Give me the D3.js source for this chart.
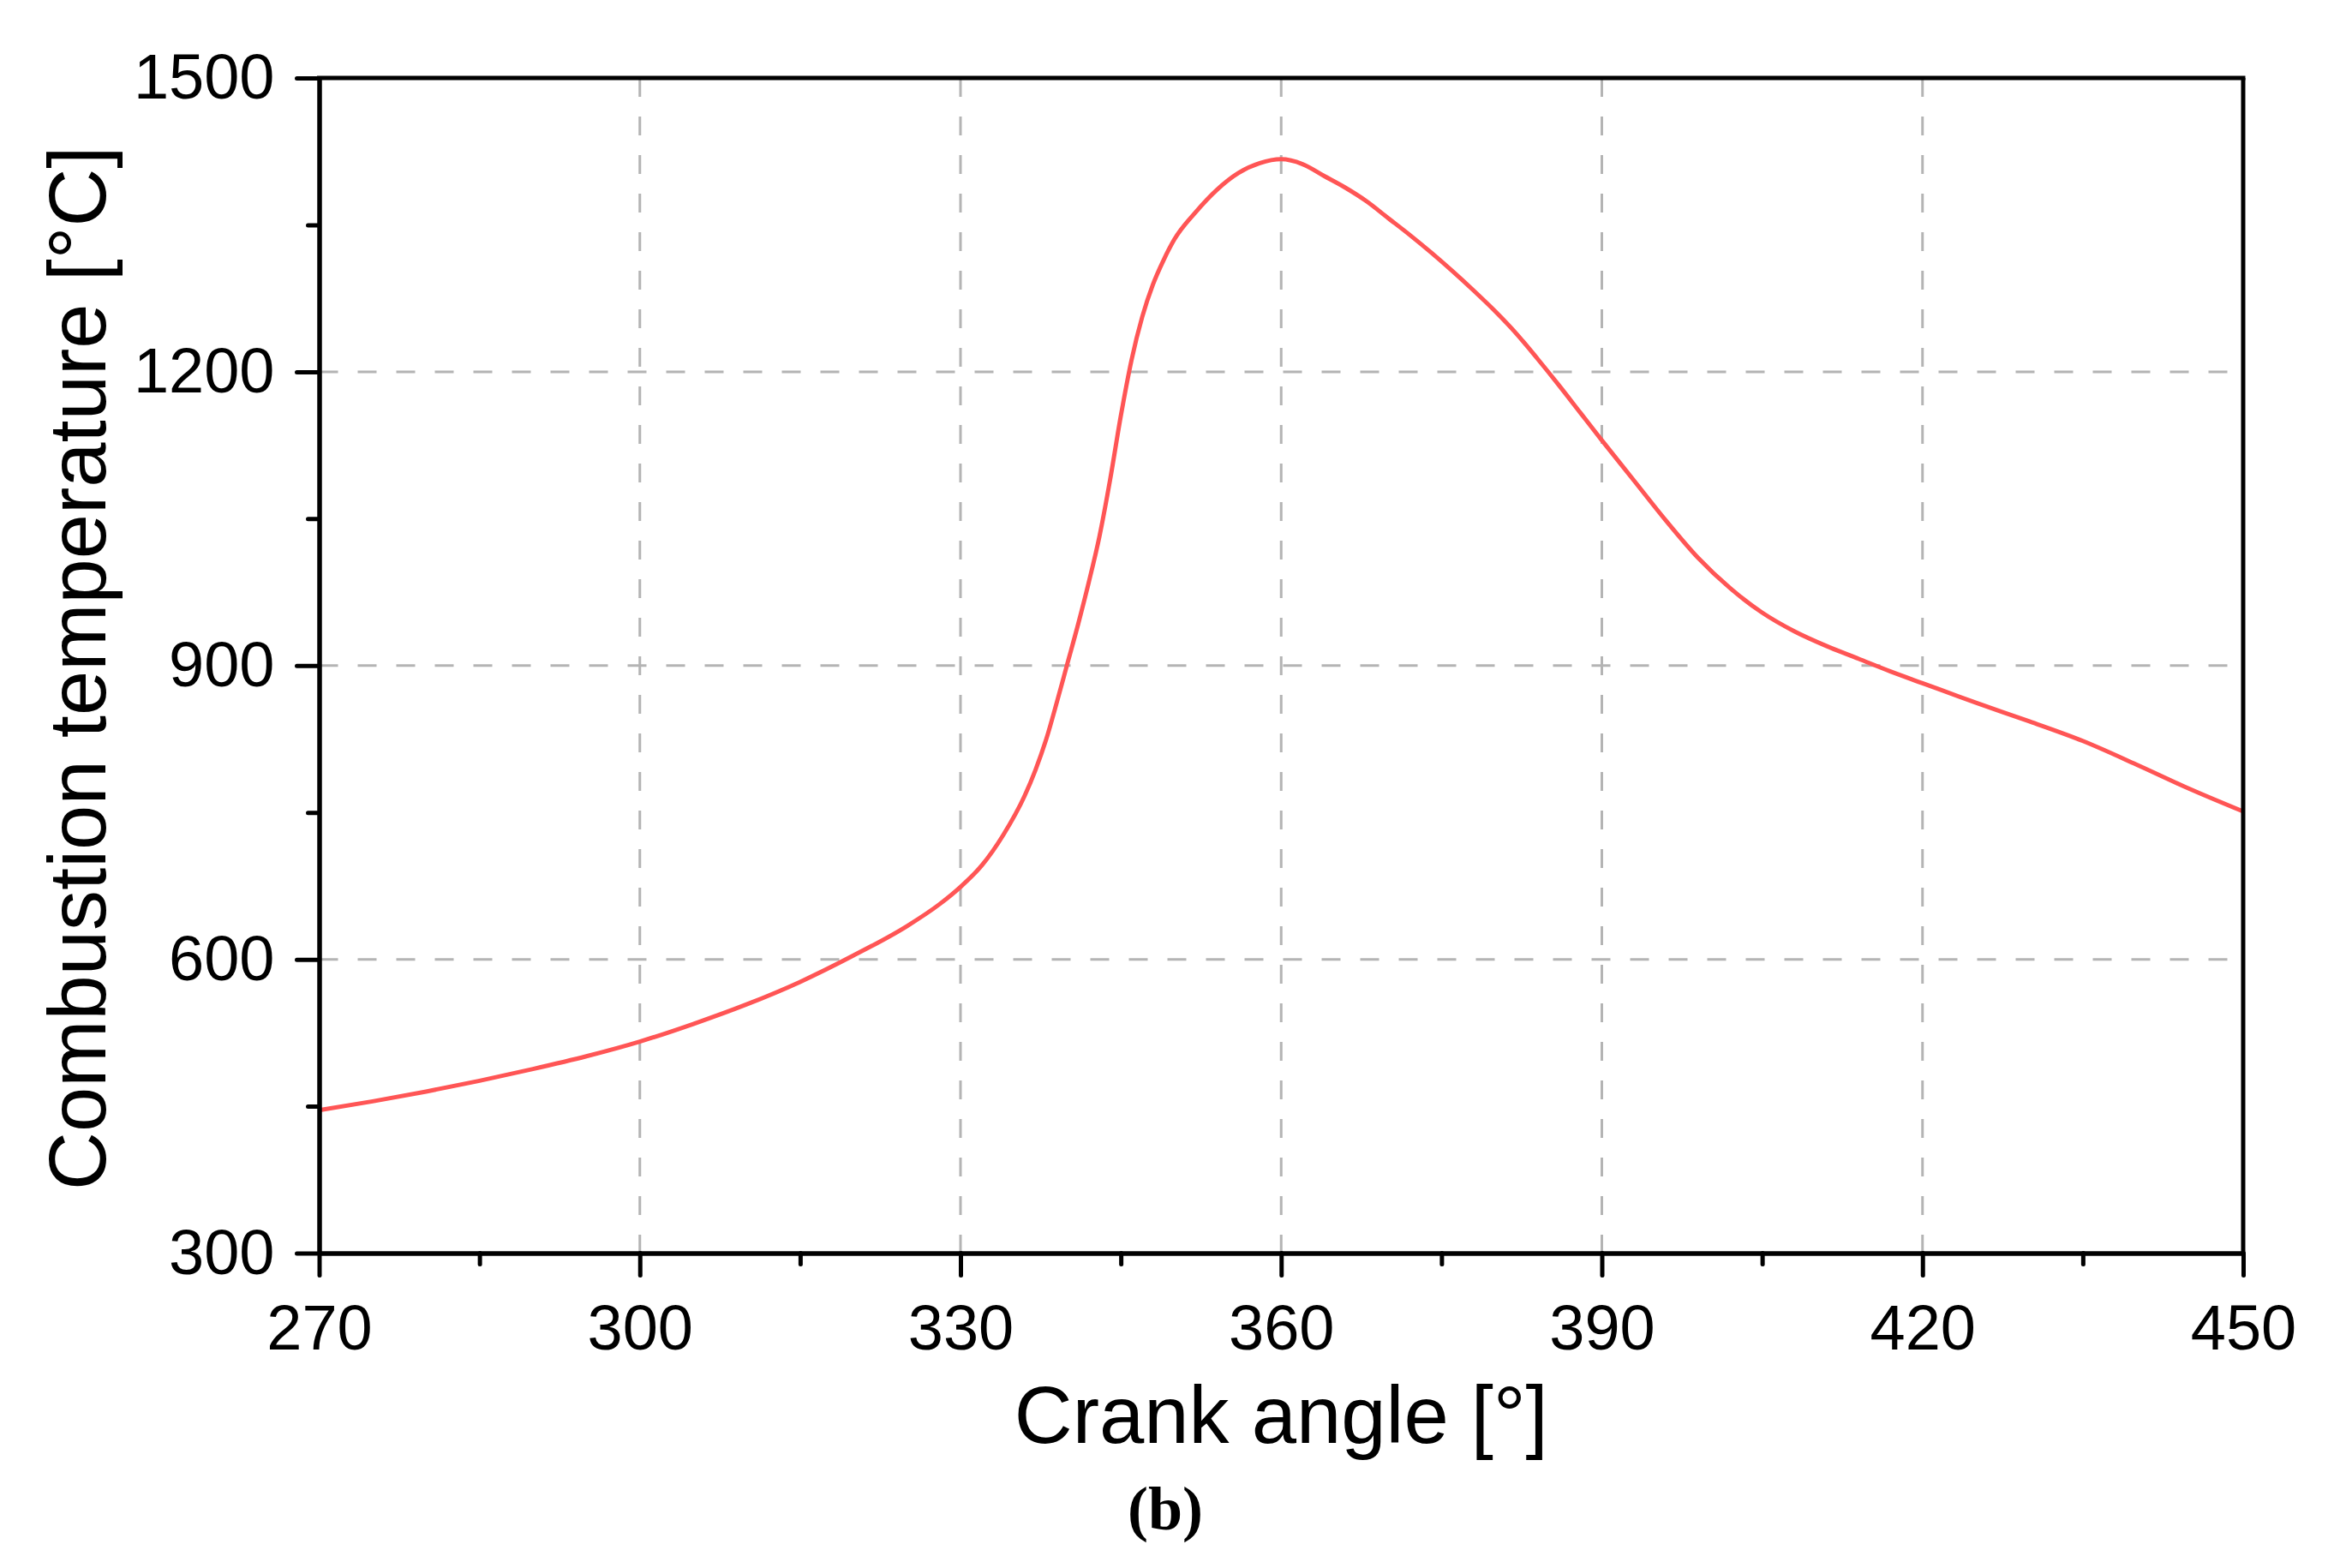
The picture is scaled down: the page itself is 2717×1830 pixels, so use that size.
<!DOCTYPE html>
<html><head><meta charset="utf-8">
<script src="https://cdn.jsdelivr.net/npm/d3@7"></script>
<style>body{margin:0;background:#fff}svg{display:block}</style>
</head><body>
<svg id="c" width="2717" height="1830"></svg>
<script>
const angles = [270,275,280,285,290,295,300,305,310,315,320,325,328,330,332,334,336,337,338,339,340,341,342,343,344,345,346,347,348,349,350,352,354,356,358,360,362,364,366,368,370,372,374,376,378,380,382,384,386,388,390,393,396,399,402,405,408,411,414,417,420,425,430,435,440,445,450];
const temps  = [446,455,465,476,488,501,516,534,554,577,604,634,656,674,696,727,767,793,824,862,902,942,985,1032,1090,1155,1212,1256,1289,1314,1335,1363,1386,1403,1413,1417,1412,1400,1388,1374,1357,1340,1322,1303,1283,1262,1239,1213,1186,1158,1130,1089,1048,1010,979,954,935,920,907,894,882,862,843,823,799,774,751];
const xTicks = [270,300,330,360,390,420,450];
const yTicks = [300,600,900,1200,1500];
const xMinor = [285,315,345,375,405,435];
const yMinor = [450,750,1050,1350];
const xTitle = "Crank angle [°]";
const yTitle = "Combustion temperature [°C]";
const panel = "(b)";

const L=372.5, R=2618, T=91, B=1462.5;
const svg=d3.select("#c");
const x=d3.scaleLinear().domain([270,450]).range([L,R]);
const y=d3.scaleLinear().domain([300,1500]).range([B,T]);
const font="Liberation Sans, Arial, sans-serif";

// grid
const g=svg.append("g");
g.selectAll("line.vx").data(xTicks.slice(1,-1)).join("line")
 .attr("x1",d=>x(d)).attr("x2",d=>x(d)).attr("y1",T).attr("y2",B)
 .attr("stroke","#b4b4b4").attr("stroke-width",3).attr("stroke-dasharray","22,23");
g.selectAll("line.hy").data(yTicks.slice(1,-1)).join("line")
 .attr("y1",d=>y(d)).attr("y2",d=>y(d)).attr("x1",L).attr("x2",R)
 .attr("stroke","#b4b4b4").attr("stroke-width",3).attr("stroke-dasharray","22,23");

// curve
const data=angles.map((a,i)=>[a,temps[i]]);
svg.append("path").datum(data)
 .attr("d",d3.line().x(d=>x(d[0])).y(d=>y(d[1])).curve(d3.curveMonotoneX))
 .attr("fill","none").attr("stroke","#ff5555").attr("stroke-width",5).attr("stroke-linejoin","round");

// axes
const fmt=d3.format("d");
const xa=d3.axisBottom(x).tickValues(xTicks).tickSize(26).tickSizeOuter(0).tickPadding(34).tickFormat(fmt);
svg.append("g").attr("transform",`translate(0,${B})`).call(xa);
const xm=d3.axisBottom(x).tickValues(xMinor).tickSize(13).tickSizeOuter(0).tickFormat("");
svg.append("g").attr("transform",`translate(0,${B})`).call(xm);
const ya=d3.axisLeft(y).tickValues(yTicks).tickSize(26).tickSizeOuter(0).tickPadding(26).tickFormat(fmt);
svg.append("g").attr("transform",`translate(${L},0)`).call(ya);
const ym=d3.axisLeft(y).tickValues(yMinor).tickSize(13).tickSizeOuter(0).tickFormat("");
svg.append("g").attr("transform",`translate(${L},0)`).call(ym);
svg.selectAll(".domain").attr("stroke","#000").attr("stroke-width",5);
svg.selectAll(".tick line").attr("stroke","#000").attr("stroke-width",5).attr("stroke-linecap","round");
svg.selectAll(".tick text").attr("font-family",font).attr("font-size",74).attr("fill","#000");

// frame top/right
svg.append("line").attr("x1",L-2.5).attr("x2",R+2.5).attr("y1",T).attr("y2",T).attr("stroke","#000").attr("stroke-width",5);
svg.append("line").attr("x1",R).attr("x2",R).attr("y1",T).attr("y2",B).attr("stroke","#000").attr("stroke-width",5);

// titles
svg.append("text").attr("x",(L+R)/2).attr("y",1684).attr("text-anchor","middle")
 .attr("font-family",font).attr("font-size",94).text(xTitle);
svg.append("text").attr("transform",`translate(123,${(T+B)/2+3}) rotate(-90)`).attr("text-anchor","middle")
 .attr("font-family",font).attr("font-size",94).text(yTitle);
svg.append("text").attr("x",1360).attr("y",1785).attr("text-anchor","middle")
 .attr("font-family","Liberation Serif, Times New Roman, serif").attr("font-weight","bold").attr("font-size",72).text(panel);
</script>
</body></html>
